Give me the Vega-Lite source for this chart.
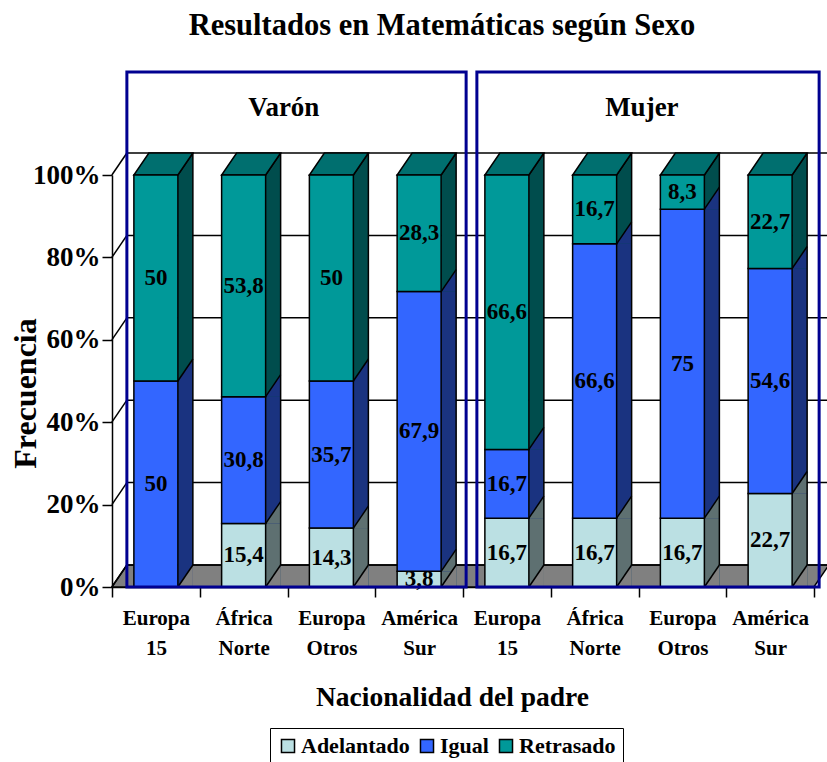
{
"$schema":"https://vega.github.io/schema/vega-lite/v6.json",
"width":702,"height":412,
"autosize":{"type":"none"},
"padding":{"left":112,"top":175,"right":13,"bottom":175},
"background":"white",
"title":{"text":"Resultados en Matemáticas según Sexo","font":"Liberation Serif","fontSize":30.5,"fontWeight":"bold","color":"black","anchor":"middle","frame":"group","dx":-21,"offset":29},
"config":{"view":{"stroke":null},"font":"Liberation Serif"},
"datasets":{
"marcas":[{"p":0},{"p":20},{"p":40},{"p":60},{"p":80},{"p":100}],
"paneles":[{"sexo":"Varón","desde":"V:Europa 15","hasta":"V:América Sur"},{"sexo":"Mujer","desde":"M:Europa 15","hasta":"M:América Sur"}]
},
"data":{"values":[
{"barra":"V:Europa 15","nivel":"Igual","pct":50},{"barra":"V:Europa 15","nivel":"Retrasado","pct":50},
{"barra":"V:África Norte","nivel":"Adelantado","pct":15.4},{"barra":"V:África Norte","nivel":"Igual","pct":30.8},{"barra":"V:África Norte","nivel":"Retrasado","pct":53.8},
{"barra":"V:Europa Otros","nivel":"Adelantado","pct":14.3},{"barra":"V:Europa Otros","nivel":"Igual","pct":35.7},{"barra":"V:Europa Otros","nivel":"Retrasado","pct":50},
{"barra":"V:América Sur","nivel":"Adelantado","pct":3.8},{"barra":"V:América Sur","nivel":"Igual","pct":67.9},{"barra":"V:América Sur","nivel":"Retrasado","pct":28.3},
{"barra":"M:Europa 15","nivel":"Adelantado","pct":16.7},{"barra":"M:Europa 15","nivel":"Igual","pct":16.7},{"barra":"M:Europa 15","nivel":"Retrasado","pct":66.6},
{"barra":"M:África Norte","nivel":"Adelantado","pct":16.7},{"barra":"M:África Norte","nivel":"Igual","pct":66.6},{"barra":"M:África Norte","nivel":"Retrasado","pct":16.7},
{"barra":"M:Europa Otros","nivel":"Adelantado","pct":16.7},{"barra":"M:Europa Otros","nivel":"Igual","pct":75},{"barra":"M:Europa Otros","nivel":"Retrasado","pct":8.3},
{"barra":"M:América Sur","nivel":"Adelantado","pct":22.7},{"barra":"M:América Sur","nivel":"Igual","pct":54.6},{"barra":"M:América Sur","nivel":"Retrasado","pct":22.7}
]},
"transform":[
{"stack":"pct","groupby":["barra"],"sort":[{"field":"nivel","order":"ascending"}],"as":["y0","y1"]},
{"calculate":"(datum.y0+datum.y1)/2","as":"medio"},
{"calculate":"replace(toString(datum.pct),'.',',')","as":"rotulo"}
],
"encoding":{
"x":{"field":"barra","type":"nominal","sort":null,"scale":{"domain":["V:Europa 15","V:África Norte","V:Europa Otros","V:América Sur","M:Europa 15","M:África Norte","M:Europa Otros","M:América Sur"],"paddingInner":0,"paddingOuter":0},
"axis":{"title":"Nacionalidad del padre","titleFont":"Liberation Serif","titleFontSize":27.5,"titleFontWeight":"bold","titleColor":"black","titleX":340,"titleY":118,"titleBaseline":"alphabetic","labelAngle":0,"labelFont":"Liberation Serif","labelFontSize":21,"labelFontWeight":"bold","labelColor":"black","labelLineHeight":30,"labelPadding":10,"labelExpr":"split(slice(datum.label,2),' ')","labelBaseline":"top","tickBand":"extent","tickSize":10,"tickColor":"black","tickWidth":1.5,"domainColor":"black","domainWidth":1.5,"grid":false}}
},
"layer":[
{"data":{"values":[{"n":1}]},"mark":{"type":"point","shape":"M-44,0 L-29,-22 L673,-22 L658,0 Z","size":4,"filled":true,"fill":"#808080","stroke":"black","strokeWidth":1.5,"opacity":1},
"encoding":{"x":{"datum":"V:Europa 15"},"y":{"datum":0}}},
{"data":{"name":"marcas"},"mark":{"type":"rule","color":"black","strokeWidth":1.5,"xOffset":-29,"x2Offset":59,"yOffset":-22},
"encoding":{"x":{"datum":"V:Europa 15"},"x2":{"datum":"M:América Sur"},"y":{"field":"p","type":"quantitative","scale":{"domain":[0,100]},
"axis":{"values":[0,20,40,60,80,100],"labelExpr":"datum.value+'%'","title":"Frecuencia","titleFont":"Liberation Serif","titleFontSize":32,"titleFontWeight":"bold","titleColor":"black","titleX":-87,"titleY":218,"titleBaseline":"middle","labelFont":"Liberation Serif","labelFontSize":27,"labelFontWeight":"bold","labelColor":"black","labelPadding":2,"tickSize":10,"tickColor":"black","tickWidth":1.5,"domainColor":"black","domainWidth":1.5,"grid":false}}}},
{"data":{"name":"marcas"},"mark":{"type":"point","shape":"M-44,0 L-29,-22","size":4,"filled":false,"stroke":"black","strokeWidth":1.5,"opacity":1},
"encoding":{"x":{"datum":"V:Europa 15"},"y":{"field":"p","type":"quantitative"}}},

{"transform":[{"filter":"datum.nivel=='Retrasado'"}],"mark":{"type":"bar","width":15,"xOffset":29.5,"fill":"#004D4D"},
"encoding":{"y":{"field":"y1","type":"quantitative"},"y2":{"datum":0}}},
{"transform":[{"filter":"datum.nivel=='Retrasado'"}],"mark":{"type":"point","shape":"M22,0 L37,0 L37,-22 Z","size":4,"filled":true,"fill":"#004D4D","stroke":null,"opacity":1},
"encoding":{"y":{"field":"y1","type":"quantitative"}}},
{"transform":[{"filter":"datum.nivel=='Igual'"}],"mark":{"type":"bar","width":15,"xOffset":29.5,"fill":"#1A3380"},
"encoding":{"y":{"field":"y1","type":"quantitative"},"y2":{"datum":0}}},
{"transform":[{"filter":"datum.nivel=='Igual'"}],"mark":{"type":"point","shape":"M22,0 L37,0 L37,-22 Z","size":4,"filled":true,"fill":"#1A3380","stroke":null,"opacity":1},
"encoding":{"y":{"field":"y1","type":"quantitative"}}},
{"transform":[{"filter":"datum.nivel=='Adelantado'"}],"mark":{"type":"bar","width":15,"xOffset":29.5,"fill":"#5E7071"},
"encoding":{"y":{"field":"y1","type":"quantitative"},"y2":{"datum":0}}},
{"transform":[{"filter":"datum.nivel=='Adelantado'"}],"mark":{"type":"point","shape":"M22,0 L37,0 L37,-22 Z","size":4,"filled":true,"fill":"#5E7071","stroke":null,"opacity":1},
"encoding":{"y":{"field":"y1","type":"quantitative"}}},
{"transform":[{"filter":"datum.nivel=='Retrasado'"}],"mark":{"type":"point","shape":"M22,0 L37,0 L37,-22 Z","size":4,"filled":true,"fill":"#808080","stroke":null,"opacity":1},
"encoding":{"y":{"datum":0}}},
{"transform":[{"filter":"datum.nivel=='Retrasado'"}],"mark":{"type":"rule","color":"black","strokeWidth":1.5,"xOffset":37,"yOffset":-22,"y2Offset":-22},
"encoding":{"y":{"datum":0},"y2":{"datum":100}}},
{"mark":{"type":"point","shape":"M22,0 L37,-22","size":4,"filled":false,"stroke":"black","strokeWidth":1.5,"opacity":1},
"encoding":{"y":{"field":"y1","type":"quantitative"}}},
{"transform":[{"filter":"datum.nivel=='Retrasado'"}],"mark":{"type":"point","shape":"M22,0 L37,-22","size":4,"filled":false,"stroke":"black","strokeWidth":1.5,"opacity":1},
"encoding":{"y":{"datum":0}}},
{"transform":[{"filter":"datum.nivel=='Retrasado'"}],"mark":{"type":"point","shape":"M-22,0 L22,0 L37,-22 L-7,-22 Z","size":4,"filled":true,"fill":"#006F6F","stroke":"black","strokeWidth":1.5,"opacity":1},
"encoding":{"y":{"field":"y1","type":"quantitative"}}},
{"mark":{"type":"bar","width":44,"stroke":"black","strokeWidth":1.5},
"encoding":{"y":{"field":"y0","type":"quantitative"},"y2":{"field":"y1"},
"color":{"field":"nivel","type":"nominal","scale":{"domain":["Adelantado","Igual","Retrasado"],"range":["#BBE0E3","#3366FF","#009999"]},
"legend":{"title":null,"orient":"none","legendX":158,"legendY":553,"direction":"horizontal","strokeColor":"black","padding":7,"symbolType":"square","symbolSize":170,"symbolStrokeColor":"black","symbolStrokeWidth":1.5,"labelFont":"Liberation Serif","labelFontSize":22,"labelFontWeight":"bold","labelColor":"black","columnPadding":6,"labelOffset":2,"symbolOpacity":1}}}},
{"mark":{"type":"text","font":"Liberation Serif","fontSize":23,"fontWeight":"bold","color":"black"},
"encoding":{"y":{"field":"medio","type":"quantitative"},"text":{"field":"rotulo"}}},

{"data":{"name":"paneles"},"transform":[{"filter":"datum.sexo=='Varón'"}],"mark":{"type":"rect","fill":null,"stroke":"#000090","strokeWidth":3,"xOffset":-29,"x2Offset":47,"y2Offset":-103},
"encoding":{"x":{"field":"desde","type":"nominal"},"x2":{"field":"hasta"},"y":{"datum":0},"y2":{"datum":100}}},
{"data":{"name":"paneles"},"transform":[{"filter":"datum.sexo=='Mujer'"}],"mark":{"type":"rect","fill":null,"stroke":"#000090","strokeWidth":3,"xOffset":-30,"x2Offset":49,"y2Offset":-103},
"encoding":{"x":{"field":"desde","type":"nominal"},"x2":{"field":"hasta"},"y":{"datum":0},"y2":{"datum":100}}},
{"data":{"name":"paneles"},"transform":[{"filter":"datum.sexo=='Varón'"}],"mark":{"type":"text","font":"Liberation Serif","fontSize":27,"fontWeight":"bold","color":"black","dx":128,"yOffset":-67},
"encoding":{"x":{"field":"desde","type":"nominal"},"y":{"datum":100},"text":{"field":"sexo"}}},
{"data":{"name":"paneles"},"transform":[{"filter":"datum.sexo=='Mujer'"}],"mark":{"type":"text","font":"Liberation Serif","fontSize":27,"fontWeight":"bold","color":"black","dx":135,"yOffset":-67},
"encoding":{"x":{"field":"desde","type":"nominal"},"y":{"datum":100},"text":{"field":"sexo"}}}
]
}
